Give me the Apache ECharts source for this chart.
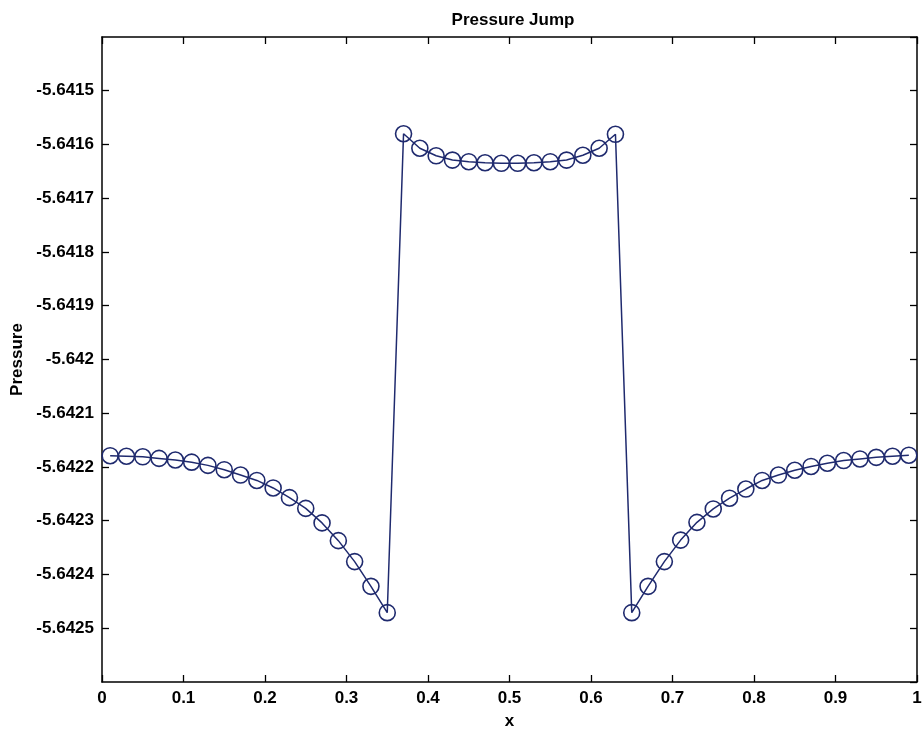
<!DOCTYPE html>
<html>
<head>
<meta charset="utf-8">
<title>Pressure Jump</title>
<script src="https://cdn.jsdelivr.net/npm/echarts@6/dist/echarts.min.js"></script>
<style>
  html, body { margin: 0; padding: 0; background: #fff; }
  #chart { width: 923px; height: 729px; }
</style>
</head>
<body>
<div id="chart"></div>
<script>
// Cell-centre positions along x
const xCentres = [
  0.01, 0.03, 0.05, 0.07, 0.09, 0.11, 0.13, 0.15, 0.17, 0.19,
  0.21, 0.23, 0.25, 0.27, 0.29, 0.31, 0.33, 0.35, 0.37, 0.39,
  0.41, 0.43, 0.45, 0.47, 0.49, 0.51, 0.53, 0.55, 0.57, 0.59,
  0.61, 0.63, 0.65, 0.67, 0.69, 0.71, 0.73, 0.75, 0.77, 0.79,
  0.81, 0.83, 0.85, 0.87, 0.89, 0.91, 0.93, 0.95, 0.97, 0.99
];

// Pressure in each cell
const pressure = [
  -5.642179, -5.642180, -5.642181, -5.642184, -5.642187, -5.642191, -5.642197, -5.642205, -5.642215, -5.642225,
  -5.642239, -5.642257, -5.642277, -5.642304, -5.642337, -5.642376, -5.642422, -5.642471, -5.641580, -5.641607,
  -5.641621, -5.641629, -5.641632, -5.641634, -5.641635, -5.641635, -5.641634, -5.641632, -5.641629, -5.641620,
  -5.641607, -5.641581, -5.642471, -5.642422, -5.642376, -5.642336, -5.642303, -5.642278, -5.642258, -5.642241,
  -5.642225, -5.642215, -5.642206, -5.642199, -5.642193, -5.642188, -5.642185, -5.642182, -5.642180, -5.642178
];

// Axis ranges and tick steps
const xRange = [0, 1];
const xStep = 0.1;
const yRange = [-5.6426, -5.6414];
const yStep = 0.0001;

const ink = '#1f2a6e';
const font = '"Liberation Sans", Arial, sans-serif';
const fmtY = v => String(parseFloat(v.toFixed(4)));
const fmtX = v => String(parseFloat(v.toFixed(1)));

const points = xCentres.map((x, i) => [x, pressure[i]]);

// Box frame: every side keeps its own line and inward ticks
const frameAxis = {
  axisLine: { show: true, onZero: false, lineStyle: { color: '#000', width: 1.5 } },
  axisTick: { show: true, inside: true, length: 7, lineStyle: { color: '#000', width: 1.3 } },
  splitLine: { show: false }
};

const chart = echarts.init(document.getElementById('chart'), null, { renderer: 'canvas' });
chart.setOption({
  animation: false,
  backgroundColor: '#fff',
  title: {
    text: 'Pressure Jump',
    left: 508,
    top: 7,
    textAlign: 'center',
    textStyle: { fontFamily: font, fontSize: 17, fontWeight: 'bold', color: '#000' }
  },
  grid: { left: 102, right: 6, top: 37, bottom: 47, containLabel: false, outerBoundsMode: 'none' },
  xAxis: [
    Object.assign({
      type: 'value', position: 'bottom',
      min: xRange[0], max: xRange[1], interval: xStep,
      name: 'x', nameLocation: 'middle', nameGap: 31,
      nameTextStyle: { fontFamily: font, fontSize: 17, fontWeight: 'bold', color: '#000' },
      axisLabel: { fontFamily: font, fontSize: 17, fontWeight: 'bold', color: '#000', margin: 8, formatter: fmtX }
    }, frameAxis),
    Object.assign({
      type: 'value', position: 'top',
      min: xRange[0], max: xRange[1], interval: xStep,
      axisLabel: { show: false }
    }, frameAxis)
  ],
  yAxis: [
    Object.assign({
      type: 'value', position: 'left',
      min: yRange[0], max: yRange[1], interval: yStep,
      name: 'Pressure', nameLocation: 'middle', nameGap: 75, nameRotate: 90,
      nameTextStyle: { fontFamily: font, fontSize: 17, fontWeight: 'bold', color: '#000' },
      axisLabel: {
        fontFamily: font, fontSize: 17, fontWeight: 'bold', color: '#000', margin: 8,
        showMinLabel: false, showMaxLabel: false, formatter: fmtY
      }
    }, frameAxis),
    Object.assign({
      type: 'value', position: 'right',
      min: yRange[0], max: yRange[1], interval: yStep,
      axisLabel: { show: false }
    }, frameAxis)
  ],
  series: [{
    type: 'line',
    xAxisIndex: 0,
    yAxisIndex: 0,
    data: points,
    symbol: 'circle',
    symbolSize: 16,
    showAllSymbol: true,
    lineStyle: { color: ink, width: 1.5 },
    itemStyle: { color: 'rgba(0,0,0,0)', borderColor: ink, borderWidth: 1.6 },
    clip: false
  }]
});
</script>
</body>
</html>
